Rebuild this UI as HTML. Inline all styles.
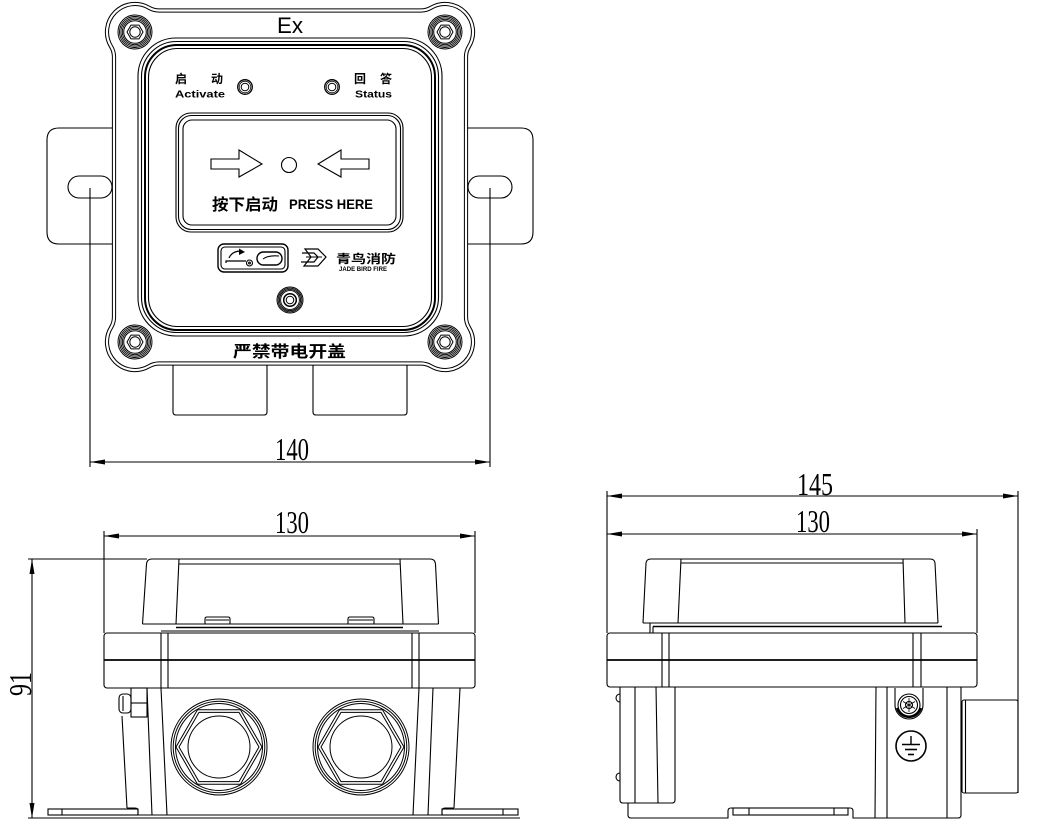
<!DOCTYPE html>
<html><head><meta charset="utf-8"><style>
html,body{margin:0;padding:0;background:#fff;}
svg{display:block;}
text{font-family:"Liberation Sans","Noto Sans CJK SC",sans-serif;fill:#000;stroke:none;}
.d{font-family:"Liberation Serif",serif;font-size:32px;}
</style></head><body>
<svg width="1045" height="835" viewBox="0 0 1045 835" xmlns="http://www.w3.org/2000/svg">
<defs>
<g id="sc" fill="none" stroke="#000">
<circle r="17" stroke-width="1"/>
<circle r="15.5" stroke-width="0.9"/>
<circle r="14.1" stroke-width="0.9"/>
<circle r="12.7" stroke-width="0.9"/>
<circle r="11.3" stroke-width="1"/>
<polygon points="8,0 4,6.9 -4,6.9 -8,0 -4,-6.9 4,-6.9" stroke-width="1"/>
<circle r="5.2" stroke-width="1"/>
</g>
<g id="gl" fill="none" stroke="#000" stroke-width="1">
<circle r="48"/><circle r="45.8"/><circle r="43.5"/>
<polygon points="43,0 21.5,37.2 -21.5,37.2 -43,0 -21.5,-37.2 21.5,-37.2"/>
<polygon points="40,0 20,34.6 -20,34.6 -40,0 -20,-34.6 20,-34.6"/>
<circle r="31"/>
</g>
</defs>

<g fill="none" stroke="#000" stroke-width="1.1">
<!-- ===== FRONT VIEW ===== -->
<path d="M113,128 H59 Q47,128 47,140 V232 Q47,244 59,244 H113"/>
<path d="M467,128 H521 Q533,128 533,140 V232 Q533,244 521,244 H467"/>
<rect x="68" y="176" width="44" height="22" rx="11"/>
<rect x="468" y="176" width="44" height="22" rx="11"/>
<path d="M173,362 V412 Q173,415 176,415 H264 Q267,415 267,412 V362"/>
<path d="M313,362 V412 Q313,415 316,415 H404 Q407,415 407,412 V362"/>
<path d="M159.1,10.5 L420.9,10.5 A20,20 0 0 0 430.9,7.8 A28,28 0 0 1 468.9,46.6 A20,20 0 0 0 466,57 L466,317 A20,20 0 0 0 468.9,327.4 A28,28 0 0 1 430.9,366.2 A20,20 0 0 0 420.9,363.5 L159.1,363.5 A20,20 0 0 0 149.1,366.2 A28,28 0 0 1 111.1,327.4 A20,20 0 0 0 114,317 L114,57 A20,20 0 0 0 111.1,46.6 A28,28 0 0 1 149.1,7.8 A20,20 0 0 0 159.1,10.5 Z" fill="#fff" stroke-width="4.2"/>
<path d="M159.1,10.5 L420.9,10.5 A20,20 0 0 0 430.9,7.8 A28,28 0 0 1 468.9,46.6 A20,20 0 0 0 466,57 L466,317 A20,20 0 0 0 468.9,327.4 A28,28 0 0 1 430.9,366.2 A20,20 0 0 0 420.9,363.5 L159.1,363.5 A20,20 0 0 0 149.1,366.2 A28,28 0 0 1 111.1,327.4 A20,20 0 0 0 114,317 L114,57 A20,20 0 0 0 111.1,46.6 A28,28 0 0 1 149.1,7.8 A20,20 0 0 0 159.1,10.5 Z" stroke="#fff" stroke-width="2.2"/>
<rect x="138" y="38" width="304" height="298" rx="38"/>
<rect x="141.5" y="41.5" width="297" height="291" rx="35"/>
<rect x="145" y="45" width="290" height="285" rx="32" stroke-width="2"/>
<rect x="148.5" y="48.5" width="283" height="278" rx="29"/>
<use href="#sc" x="135" y="32"/>
<use href="#sc" x="445" y="32"/>
<use href="#sc" x="135" y="342"/>
<use href="#sc" x="445" y="342"/>
<circle cx="245" cy="87" r="7.3" stroke-width="1.3"/>
<circle cx="245" cy="87" r="5.8" stroke-width="0.8"/>
<circle cx="245" cy="87" r="3.8" stroke-width="1"/>
<circle cx="332" cy="87" r="7.3" stroke-width="1.3"/>
<circle cx="332" cy="87" r="5.8" stroke-width="0.8"/>
<circle cx="332" cy="87" r="3.8" stroke-width="1"/>
<rect x="176" y="113" width="227" height="119" rx="15"/>
<rect x="178.5" y="115.5" width="222" height="114" rx="13"/>
<rect x="183" y="120" width="213" height="105" rx="9"/>
<polygon points="211,159 239,159 239,150 262,164 239,177 239,169 211,169"/>
<polygon points="369,159 341,159 341,150 318,164 341,177 341,169 369,169"/>
<circle cx="289" cy="165" r="7.5"/>
<rect x="218" y="244" width="70" height="28" rx="6" stroke-width="1.4"/>
<rect x="221" y="247" width="64" height="22" rx="4"/>
<path d="M229,258 Q232,251 241,251" stroke-width="1.2"/>
<polygon points="245,252 239,248.5 239,255" fill="#000" stroke="none"/>
<path d="M226,263 V261 H246" stroke-width="1.2"/>
<circle cx="249.5" cy="263" r="3"/>
<circle cx="249.5" cy="263" r="0.9"/>
<rect x="257" y="252" width="25" height="13" rx="6.5" stroke-width="1.4"/>
<path d="M263,259 Q268,255 279,256" />
<path d="M305,249 H318 L326,257 L318,266 H304 L311,257 Z" stroke-width="1.2"/>
<path d="M302,253 H314 L318,257 L314,262 H301" stroke-width="1.2"/>
<path d="M306,257 H322" stroke-width="1"/>
<circle cx="290" cy="300" r="13" stroke-width="1"/>
<circle cx="290" cy="300" r="11.8" stroke-width="0.9"/>
<circle cx="290" cy="300" r="10.6" stroke-width="0.9"/>
<circle cx="290" cy="300" r="9.4" stroke-width="0.9"/>
<circle cx="290" cy="300" r="6.3" stroke-width="1.5"/>
<circle cx="290" cy="300" r="3.8" stroke-width="1"/>

<line x1="90" y1="188" x2="90" y2="467"/>
<line x1="490" y1="188" x2="490" y2="467"/>
<line x1="90" y1="462" x2="490" y2="462"/>

<!-- ===== BOTTOM-LEFT VIEW ===== -->
<line x1="104" y1="531" x2="104" y2="633"/>
<line x1="475" y1="531" x2="475" y2="633"/>
<line x1="104" y1="536" x2="475" y2="536"/>
<line x1="28" y1="559" x2="147" y2="559"/>
<line x1="28" y1="818" x2="520" y2="818"/>
<line x1="32" y1="559" x2="32" y2="818"/>
<path d="M142.5,624 L146.5,564 Q147,559 152,559 H430 Q435,559 435.5,564 L438.5,624"/>
<line x1="179" y1="559" x2="176" y2="624"/>
<line x1="400" y1="559" x2="403" y2="624"/>
<line x1="179" y1="564" x2="400" y2="564"/>
<line x1="142.5" y1="624" x2="438.5" y2="624"/>
<line x1="176" y1="627.5" x2="403" y2="627.5" stroke-width="1.6"/>
<line x1="161" y1="631" x2="419" y2="631"/>
<path d="M205,624 V619 Q205,617 207,617 H228 Q230,617 230,619 V624"/>
<line x1="206" y1="620" x2="229" y2="620"/>
<path d="M348,624 V619 Q348,617 350,617 H372 Q374,617 374,619 V624"/>
<line x1="349" y1="620" x2="373" y2="620"/>
<rect x="104" y="633" width="371" height="55" rx="3"/>
<line x1="104" y1="660" x2="475" y2="660" stroke-width="1.8"/>
<line x1="161" y1="633" x2="161" y2="688"/>
<line x1="168" y1="633" x2="168" y2="688"/>
<line x1="412" y1="633" x2="412" y2="688"/>
<line x1="419" y1="633" x2="419" y2="688"/>
<line x1="147" y1="688" x2="152" y2="815"/>
<line x1="161" y1="688" x2="167" y2="815"/>
<line x1="433" y1="688" x2="428" y2="815"/>
<line x1="419" y1="688" x2="413" y2="815"/>
<line x1="460" y1="688" x2="454" y2="808"/>
<line x1="122" y1="716" x2="127" y2="808"/>
<line x1="138" y1="815" x2="442" y2="815"/>
<path d="M127,808 H135 Q138,808 138,811 V815"/>
<path d="M454,808 H445 Q442,808 442,811 V815"/>
<rect x="48" y="809" width="90" height="6"/>
<line x1="62" y1="809" x2="62" y2="815"/>
<rect x="442" y="809" width="76" height="6"/>
<line x1="503" y1="809" x2="503" y2="815"/>
<rect x="131" y="688" width="16" height="29"/>
<line x1="131" y1="703" x2="147" y2="703"/>
<rect x="119" y="694" width="12" height="19" rx="4"/>
<line x1="123" y1="696" x2="123" y2="711"/>
<use href="#gl" x="219" y="747"/>
<use href="#gl" x="361" y="747"/>

<!-- ===== BOTTOM-RIGHT VIEW ===== -->
<line x1="607" y1="491" x2="607" y2="633"/>
<line x1="977" y1="529" x2="977" y2="633"/>
<line x1="1018" y1="491" x2="1018" y2="793"/>
<line x1="607" y1="496" x2="1018" y2="496"/>
<line x1="607" y1="534" x2="977" y2="534"/>
<path d="M643,623 L646,563 Q646.5,559 651,559 H930 Q934.5,559 935,563 L938,623"/>
<line x1="681" y1="559" x2="678" y2="623"/>
<line x1="903" y1="559" x2="905" y2="623"/>
<line x1="681" y1="563" x2="903" y2="563"/>
<line x1="643" y1="623" x2="938" y2="623"/>
<line x1="653" y1="626.5" x2="942" y2="626.5" stroke-width="1.6"/>
<line x1="650" y1="623" x2="650" y2="633"/>
<line x1="653" y1="626.5" x2="653" y2="633"/>
<rect x="607" y="633" width="370" height="54" rx="3"/>
<line x1="607" y1="660" x2="977" y2="660" stroke-width="1.8"/>
<line x1="662" y1="633" x2="662" y2="687"/>
<line x1="669" y1="633" x2="669" y2="687"/>
<line x1="913" y1="633" x2="913" y2="687"/>
<line x1="921" y1="633" x2="921" y2="687"/>
<path d="M620,687 V800 Q620,803 623,803 H672 Q675,803 675,800 V687"/>
<line x1="635" y1="687" x2="635" y2="803"/>
<line x1="656" y1="687" x2="658" y2="803"/>
<path d="M628,803 V815 Q628,818 631,818 H728 V811 Q728,808 731,808 H850 Q853,808 853,811 V818 H958 Q961,818 961,815 V687"/>
<rect x="733" y="808" width="115" height="7"/>
<line x1="749" y1="808" x2="749" y2="815"/>
<line x1="834" y1="808" x2="834" y2="815"/>
<line x1="876" y1="687" x2="875" y2="818"/>
<line x1="887" y1="687" x2="887" y2="818"/>
<line x1="947" y1="687" x2="947" y2="818"/>
<path d="M620,694 A4,4 0 0 0 620,702"/>
<path d="M620,773 A4,4 0 0 0 620,781"/>
<path d="M895,688 V705 A14,14 0 0 0 923,705 V688"/>
<path d="M897,708 A12.5,12.5 0 0 0 921,708" stroke-width="2.2"/>
<circle cx="909" cy="705" r="11" fill="#fff"/>
<circle cx="909" cy="705" r="8.5"/>
<circle cx="909" cy="705" r="3.5"/>
<path d="M909,698 V712 M903,701.5 L915,708.5 M903,708.5 L915,701.5" stroke-width="0.8"/>
<circle cx="911" cy="746" r="15" stroke-width="1.6"/>
<line x1="911" y1="736" x2="911" y2="744" stroke-width="1.4"/>
<line x1="902" y1="744.5" x2="920" y2="744.5" stroke-width="1.6"/>
<line x1="905" y1="749.5" x2="917" y2="749.5" stroke-width="1.6"/>
<line x1="908" y1="754.5" x2="914" y2="754.5" stroke-width="1.6"/>
<rect x="962" y="700" width="56" height="93" rx="2"/>
<line x1="965.5" y1="700" x2="965.5" y2="793"/>
</g>

<g fill="#000" stroke="none">
<polygon points="90,462 105,459.5 105,464.5"/>
<polygon points="490,462 475,459.5 475,464.5"/>
<polygon points="104,536 119,533.5 119,538.5"/>
<polygon points="475,536 460,533.5 460,538.5"/>
<polygon points="32,559 29.5,574 34.5,574"/>
<polygon points="32,818 29.5,803 34.5,803"/>
<polygon points="607,496 622,493.5 622,498.5"/>
<polygon points="1018,496 1003,493.5 1003,498.5"/>
<polygon points="607,534 622,531.5 622,536.5"/>
<polygon points="977,534 962,531.5 962,536.5"/>
</g>

<text x="277" y="33" font-size="22" textLength="26" lengthAdjust="spacingAndGlyphs">Ex</text>
<text x="175" y="83" font-size="12" font-weight="bold">启</text>
<text x="211" y="83" font-size="12" font-weight="bold">动</text>
<text x="354" y="83" font-size="12" font-weight="bold">回</text>
<text x="380" y="83" font-size="12" font-weight="bold">答</text>
<text x="175" y="97.5" font-size="10" font-weight="bold" textLength="50" lengthAdjust="spacingAndGlyphs">Activate</text>
<text x="355" y="97.5" font-size="10" font-weight="bold" textLength="37" lengthAdjust="spacingAndGlyphs">Status</text>
<text x="212" y="210" font-size="16" font-weight="bold" textLength="66" lengthAdjust="spacingAndGlyphs">按下启动</text>
<text x="289" y="209" font-size="14" font-weight="bold" textLength="84" lengthAdjust="spacingAndGlyphs">PRESS HERE</text>
<text x="336" y="263" font-size="12" font-weight="bold" textLength="60" lengthAdjust="spacingAndGlyphs">青鸟消防</text>
<text x="339" y="271" font-size="6" font-weight="bold" textLength="48" lengthAdjust="spacingAndGlyphs">JADE BIRD FIRE</text>
<text x="233" y="357" font-size="16" font-weight="bold" textLength="113" lengthAdjust="spacingAndGlyphs">严禁带电开盖</text>

<text class="d" x="275" y="460" textLength="34" lengthAdjust="spacingAndGlyphs">140</text>
<text class="d" x="275" y="533" textLength="34" lengthAdjust="spacingAndGlyphs">130</text>
<text class="d" x="797" y="495" textLength="36" lengthAdjust="spacingAndGlyphs">145</text>
<text class="d" x="796" y="532" textLength="34" lengthAdjust="spacingAndGlyphs">130</text>
<text class="d" transform="translate(31,684) rotate(-90)" x="-12" y="0" textLength="24" lengthAdjust="spacingAndGlyphs">91</text>
</svg>
</body></html>
